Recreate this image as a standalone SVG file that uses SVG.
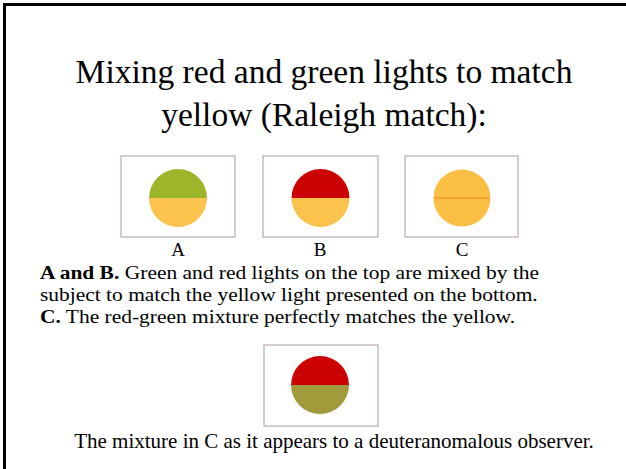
<svg xmlns="http://www.w3.org/2000/svg" width="626" height="469" viewBox="0 0 626 469">
<style>
text{font-family:"Liberation Serif","Times New Roman",serif;fill:#000}
.title{font-size:33.5px}
.body{font-size:19.5px}
.cap{font-size:21px}
.lbl{font-size:19px}
.box{fill:#fff;stroke:#b9a9b3;stroke-width:1.2}
.yel{fill:#fbc34c}
</style>
<rect width="626" height="469" fill="#fff"/>
<path d="M4.5 469 V4.5 H626" fill="none" stroke="#000" stroke-width="3"/>
<g id="title">
<text class="title" x="324" y="83" text-anchor="middle">Mixing red and green lights to match</text>
<text class="title" x="324" y="126" text-anchor="middle">yellow (Raleigh match):</text>
</g>
<g id="panelA">
<rect class="box" x="121" y="156" width="114" height="81"/>
<path d="M149 198 A29 29 0 0 1 207 198 Z" fill="#9db52b"/>
<path d="M149 198 A29 29 0 0 0 207 198 Z" class="yel"/>
<text class="lbl" x="178" y="256" text-anchor="middle">A</text>
</g>
<g id="panelB">
<rect class="box" x="263" y="156" width="115" height="81"/>
<path d="M291.5 198 A29 29 0 0 1 349.5 198 Z" fill="#cc0202"/>
<path d="M291.5 198 A29 29 0 0 0 349.5 198 Z" class="yel"/>
<text class="lbl" x="320" y="256" text-anchor="middle">B</text>
</g>
<g id="panelC">
<rect class="box" x="405" y="156" width="113" height="81"/>
<circle cx="462" cy="198" r="28.5" fill="#fbbf45"/>
<line x1="434" y1="198" x2="490" y2="198" stroke="#ec8a1c" stroke-width="1.2"/>
<text class="lbl" x="462" y="256" text-anchor="middle">C</text>
</g>
<g id="caption" transform="scale(1.1,1)">
<text class="body" x="36.4" y="279"><tspan font-weight="bold">A and B.</tspan><tspan dx="5">Green and red lights on the top are mixed by the</tspan></text>
<text class="body" x="36.4" y="301">subject to match the yellow light presented on the bottom.</text>
<text class="body" x="36.4" y="323"><tspan font-weight="bold">C.</tspan> The red-green mixture perfectly matches the yellow.</text>
</g>
<g id="panelD">
<rect class="box" x="264" y="345" width="114" height="81"/>
<path d="M291 385 A29 29 0 0 1 349 385 Z" fill="#cc0202"/>
<path d="M291 385 A29 29 0 0 0 349 385 Z" fill="#a29b3b"/>
<text class="cap" x="334" y="448" text-anchor="middle">The mixture in C as it appears to a deuteranomalous observer.</text>
</g>
<g id="connectors"/>
</svg>
